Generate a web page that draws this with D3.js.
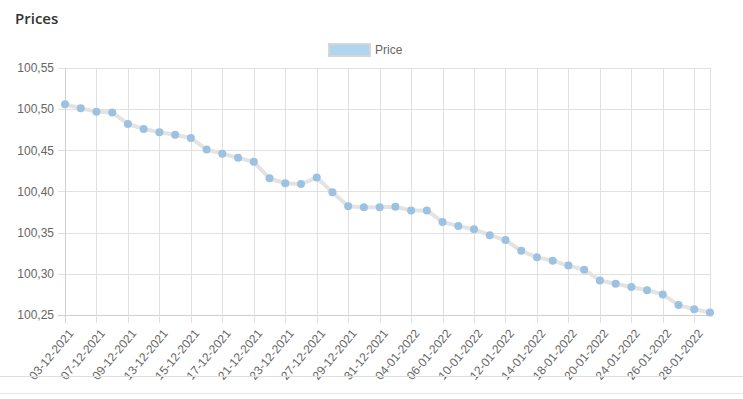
<!DOCTYPE html>
<meta charset="utf-8">
<style>
    body {
        margin: 0;
        padding: 0;
        background: #fff;
        font-family: "Liberation Sans", Arial, sans-serif;
    }
    svg {
        display: block;
    }
    .grid line {
        stroke: #e0e0e0;
        stroke-width: 1;
    }
    .tick-label {
        fill: #666;
        font-size: 12px;
    }
</style>
<svg width="743" height="399"></svg>
<script src="https://cdn.jsdelivr.net/npm/d3@7"></script>
<script>
    var dates = ["03-12-2021", "06-12-2021", "07-12-2021", "08-12-2021", "09-12-2021", "10-12-2021",
        "13-12-2021", "14-12-2021", "15-12-2021", "16-12-2021", "17-12-2021", "20-12-2021",
        "21-12-2021", "22-12-2021", "23-12-2021", "24-12-2021", "27-12-2021", "28-12-2021",
        "29-12-2021", "30-12-2021", "31-12-2021", "03-01-2022", "04-01-2022", "05-01-2022",
        "06-01-2022", "07-01-2022", "10-01-2022", "11-01-2022", "12-01-2022", "13-01-2022",
        "14-01-2022", "17-01-2022", "18-01-2022", "19-01-2022", "20-01-2022", "21-01-2022",
        "24-01-2022", "25-01-2022", "26-01-2022", "27-01-2022", "28-01-2022", "31-01-2022"];

    var prices = [100.506, 100.501, 100.497, 100.496, 100.482, 100.476, 100.472, 100.469, 100.465,
        100.451, 100.446, 100.441, 100.436, 100.416, 100.410, 100.409, 100.417, 100.399,
        100.382, 100.381, 100.381, 100.3815, 100.377, 100.377, 100.363, 100.358, 100.354,
        100.347, 100.341, 100.328, 100.320, 100.316, 100.310, 100.305, 100.292, 100.288,
        100.284, 100.280, 100.275, 100.262, 100.257, 100.253];

    var yTicks = [100.25, 100.30, 100.35, 100.40, 100.45, 100.50, 100.55];

    var svg = d3.select("svg");
    var plotLeft = 65, plotRight = 710, plotTop = 68, plotBottom = 315;

    var x = d3.scalePoint().domain(dates).range([plotLeft, plotRight]);
    var y = d3.scaleLinear().domain([100.25, 100.55]).range([plotBottom, plotTop]);

    // title
    svg.append("text")
        .attr("x", 15).attr("y", 24)
        .style("font-family", "'Open Sans', sans-serif")
        .style("font-size", "15px")
        .style("font-weight", 600)
        .style("fill", "#333")
        .text("Prices");

    // legend
    var legend = svg.append("g");
    legend.append("rect")
        .attr("x", 329).attr("y", 44).attr("width", 41).attr("height", 12)
        .attr("fill", "#b0d5f0").attr("stroke", "#d6d6d6").attr("stroke-width", 2);
    legend.append("text")
        .attr("class", "tick-label")
        .attr("x", 375).attr("y", 54)
        .text("Price");

    // grid
    var grid = svg.append("g").attr("class", "grid");
    var shown = dates.filter(function(d, i) { return i % 2 == 0; });
    var lastDate = dates[dates.length - 1];

    grid.selectAll(".hy").data(yTicks).enter().append("line")
        .attr("x1", plotLeft - 7).attr("x2", plotRight)
        .attr("y1", function(d) { return Math.round(y(d)) + 0.5; })
        .attr("y2", function(d) { return Math.round(y(d)) + 0.5; })
        .style("stroke", function(d) { return d == 100.25 ? "#cfcfcf" : null; });

    grid.selectAll(".vx").data(shown.concat([lastDate])).enter().append("line")
        .attr("x1", function(d) { return Math.round(x(d)) + 0.5; })
        .attr("x2", function(d) { return Math.round(x(d)) + 0.5; })
        .attr("y1", plotTop)
        .attr("y2", function(d) { return d == lastDate ? plotBottom : plotBottom + 8; })
        .style("stroke", function(d) { return d == dates[0] ? "#cfcfcf" : null; });

    // y labels
    svg.append("g").selectAll("text").data(yTicks).enter().append("text")
        .attr("class", "tick-label")
        .attr("x", 54)
        .attr("y", function(d) { return y(d); })
        .attr("dy", "0.35em")
        .attr("text-anchor", "end")
        .text(function(d) { return d3.format(".2f")(d).replace(".", ","); });

    // x labels
    svg.append("g").selectAll("text").data(shown).enter().append("text")
        .attr("class", "tick-label")
        .attr("text-anchor", "end")
        .attr("transform", function(d) { return "translate(" + (x(d) + 6) + "," + 331 + ") rotate(-50)"; })
        .attr("dy", "0.35em")
        .text(function(d) { return d; });

    // line
    var line = d3.line()
        .x(function(d, i) { return x(dates[i]); })
        .y(function(d) { return y(d); });

    svg.append("path")
        .datum(prices)
        .attr("d", line)
        .attr("fill", "none")
        .attr("stroke", "#e3e3e3")
        .attr("stroke-width", 4)
        .attr("stroke-linejoin", "round");

    svg.append("g").selectAll("circle").data(prices).enter().append("circle")
        .attr("cx", function(d, i) { return x(dates[i]); })
        .attr("cy", function(d) { return y(d); })
        .attr("r", 4)
        .attr("fill", "#9bc2e2");

    // page lines below chart
    svg.append("line").attr("x1", 0).attr("x2", 743).attr("y1", 376.5).attr("y2", 376.5)
        .attr("stroke", "#dedede");
    svg.append("line").attr("x1", 0).attr("x2", 743).attr("y1", 393.5).attr("y2", 393.5)
        .attr("stroke", "#e6e6e6");
</script>
